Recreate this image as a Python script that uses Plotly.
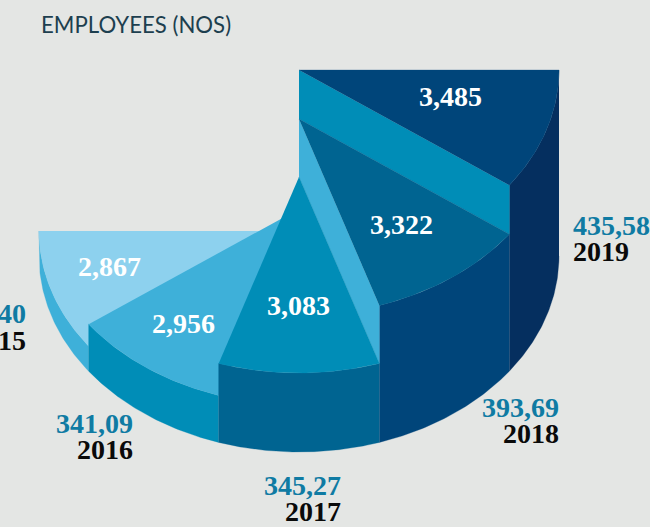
import numpy as np
import plotly.graph_objects as go

# --- data ---
years = ["2015", "2016", "2017", "2018", "2019"]
employees = [2867, 2956, 3083, 3322, 3485]
employee_labels = ["2,867", "2,956", "3,083", "3,322", "3,485"]
cost_labels = ["338,40", "341,09", "345,27", "393,69", "435,58"]
extrusion = [25, 47, 79, 137, 186]   # height of each slice's top above the base

# --- styling / layout ---
top_colors = ["#8dd1ee", "#3eb0d9", "#008db7", "#006491", "#00457a"]
rim_colors = ["#3eb0d9", "#008db7", "#006491", "#00457a", "#052f5f"]
wall_colors = [None, None, None, "#3eb0d9", "#008db7"]
BG = "#e4e6e4"
TEAL = "#0f7ba3"
SERIF = "Liberation Serif"
W, H = 650, 527
CX, BASE = 299, 256          # pixel position of the base-ellipse centre
RX, RY = 260, 196
STEP = 180 / len(years)


def px(x, y):
    """pixel position -> axis coordinates"""
    return x - CX, BASE - y


def arc(a0, a1, h):
    t = np.radians(np.linspace(a0, a1, 60))
    return RX * np.cos(t), h - RY * np.sin(t)


def poly(xs, ys, color):
    return go.Scatter(x=np.round(xs, 2), y=np.round(ys, 2), mode="lines", fill="toself",
                      fillcolor=color, line=dict(color=color, width=0.3),
                      hoverinfo="skip", showlegend=False)


fig = go.Figure()
# slice 0 = 2015 spans 180..144 deg, slice 4 = 2019 spans 36..0 deg
for i in [0, 1, 4, 3, 2]:
    a1 = 180 - i * STEP
    a0 = a1 - STEP
    h = extrusion[i]
    # outer rim
    xt, yt = arc(a0, a1, h)
    xb, yb = arc(a1, a0, 0)
    fig.add_trace(poly(np.r_[xt, xb], np.r_[yt, yb], rim_colors[i]))
    # radial wall against the next lower slice
    if wall_colors[i]:
        lo = extrusion[i - 1]
        xe, ye = arc(a1, a1, h)
        fig.add_trace(poly([0, xe[0], xe[0], 0], [h, ye[0], ye[0] + lo - h, lo], wall_colors[i]))
    # top face
    xf, yf = arc(a0, a1, h)
    fig.add_trace(poly(np.r_[0, xf], np.r_[h, yf], top_colors[i]))

annotations = []


def note(x, y, text, size, color, anchor="center", family=SERIF, bold=True):
    ax, ay = px(x, y)
    annotations.append(dict(x=ax, y=ay, xref="x", yref="y", text=f"<b>{text}</b>" if bold else text,
                            showarrow=False, xanchor=anchor, yanchor="middle",
                            font=dict(family=family, size=size, color=color)))


inner_pos = [(109, 266), (183, 323), (298, 305), (401.5, 224), (450, 96)]
for (x, y), t in zip(inner_pos, employee_labels):
    note(x, y, t, 28, "#ffffff")

outer_pos = [(28, 313.5, "right"), (135, 423, "right"), (343, 485, "right"), (561, 407, "right"), (571, 225, "left")]
for (x, y, anc), c, yr in zip(outer_pos, cost_labels, years):
    note(x, y, c, 28, TEAL, anc)
    note(x, y + 26.5, yr, 28, "#0a0a0a", anc)

note(39, 24.5, "EMPLOYEES (NOS)", 22.2, "#1d3f4f", "left", "Lato", False)

x0, y1 = px(0, 0)
x1, y0 = px(W, H)
fig.update_layout(
    width=W, height=H, margin=dict(l=0, r=0, t=0, b=0),
    paper_bgcolor=BG, plot_bgcolor=BG, showlegend=False, annotations=annotations,
    xaxis=dict(range=[x0, x1], visible=False, fixedrange=True),
    yaxis=dict(range=[y0, y1], visible=False, fixedrange=True),
)
fig.write_html("out.html", config={"displayModeBar": False},
               post_script="document.body.style.margin='0';document.body.style.overflow='hidden';"
                           "document.body.style.background='" + BG + "';")
